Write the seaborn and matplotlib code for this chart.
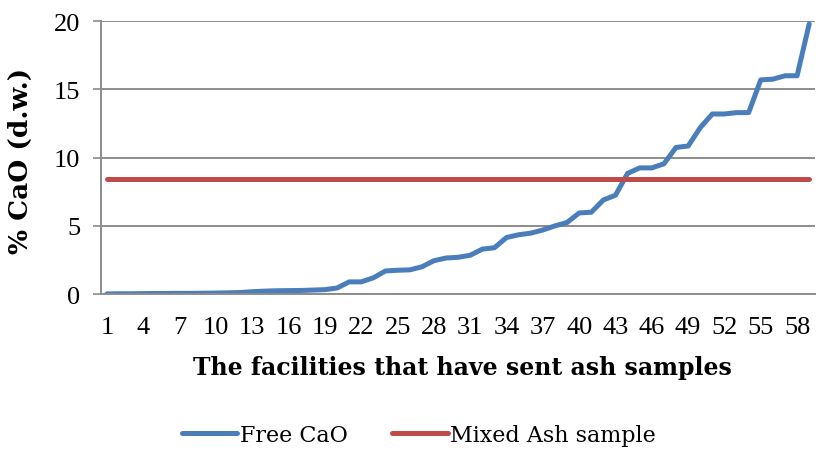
import numpy as np
import pandas as pd
import matplotlib
matplotlib.use("Agg")
import matplotlib.pyplot as plt
import seaborn as sns

# values
facilities = list(range(1, 60))
free_cao = [0.02, 0.03, 0.03, 0.04, 0.05, 0.05, 0.06, 0.06, 0.07, 0.08,
            0.10, 0.12, 0.18, 0.22, 0.25, 0.26, 0.27, 0.30, 0.33, 0.45,
            0.90, 0.90, 1.20, 1.70, 1.75, 1.78, 2.00, 2.45, 2.65, 2.70,
            2.85, 3.30, 3.40, 4.15, 4.35, 4.47, 4.70, 5.00, 5.25, 5.95,
            6.00, 6.90, 7.25, 8.85, 9.25, 9.25, 9.55, 10.75, 10.85, 12.20,
            13.20, 13.20, 13.30, 13.30, 15.70, 15.75, 16.00, 16.00, 19.80]
mixed_ash_value = 8.4
series_names = ["Free CaO", "Mixed Ash sample"]
series_colors = ["#4A7EBB", "#BE4B48"]
x_ticks = list(range(1, 60, 3))
y_ticks = [0, 5, 10, 15, 20]

df = pd.concat([
    pd.DataFrame({"facility": facilities, "value": free_cao, "series": series_names[0]}),
    pd.DataFrame({"facility": facilities, "value": mixed_ash_value, "series": series_names[1]}),
])

sns.set_style("white")
plt.rcParams["font.family"] = ["Liberation Serif", "DejaVu Serif"]
plt.rcParams["text.color"] = "black"

fig, ax = plt.subplots(figsize=(8.21, 4.52), dpi=100)
fig.subplots_adjust(left=0.123, right=0.993, top=0.951, bottom=0.347)

sns.lineplot(data=df, x="facility", y="value", hue="series", hue_order=series_names,
             palette=series_colors, linewidth=3.6, ax=ax, legend=True,
             solid_capstyle="round")

ax.set_xlim(0.5, 59.5)
ax.set_ylim(0, 20)
ax.set_xticks(x_ticks)
ax.set_yticks(y_ticks)
ax.yaxis.grid(True, color="#8c8c8c", linewidth=1.4)
ax.set_axisbelow(True)
for s in ["top", "right"]:
    ax.spines[s].set_visible(False)
for s in ["left", "bottom"]:
    ax.spines[s].set_color("#8c8c8c")
    ax.spines[s].set_linewidth(1.4)
ax.tick_params(axis="y", length=6, width=1.2, color="#8c8c8c", labelcolor="black",
               labelsize=19, left=True, pad=9)
ax.tick_params(axis="x", length=0, labelcolor="black", labelsize=19, pad=16)

ax.set_xlabel("The facilities that have sent ash samples", fontsize=17, fontweight="bold",
              family="DejaVu Serif", color="black")
ax.set_ylabel("% CaO (d.w.)", fontsize=19, fontweight="bold", family="DejaVu Serif",
              color="black")
ax.xaxis.set_label_coords(0.506, -0.222)
ax.yaxis.set_label_coords(-0.095, 0.49)

handles, labels = ax.get_legend_handles_labels()
ax.get_legend().remove()
fig.legend(handles, labels, loc="center", ncol=2, frameon=False,
           prop={"family": "DejaVu Serif", "size": 16},
           bbox_to_anchor=(0.51, 0.035), handlelength=2.5, handletextpad=0.1,
           columnspacing=2.0)

fig.savefig("out.png", dpi=100)
